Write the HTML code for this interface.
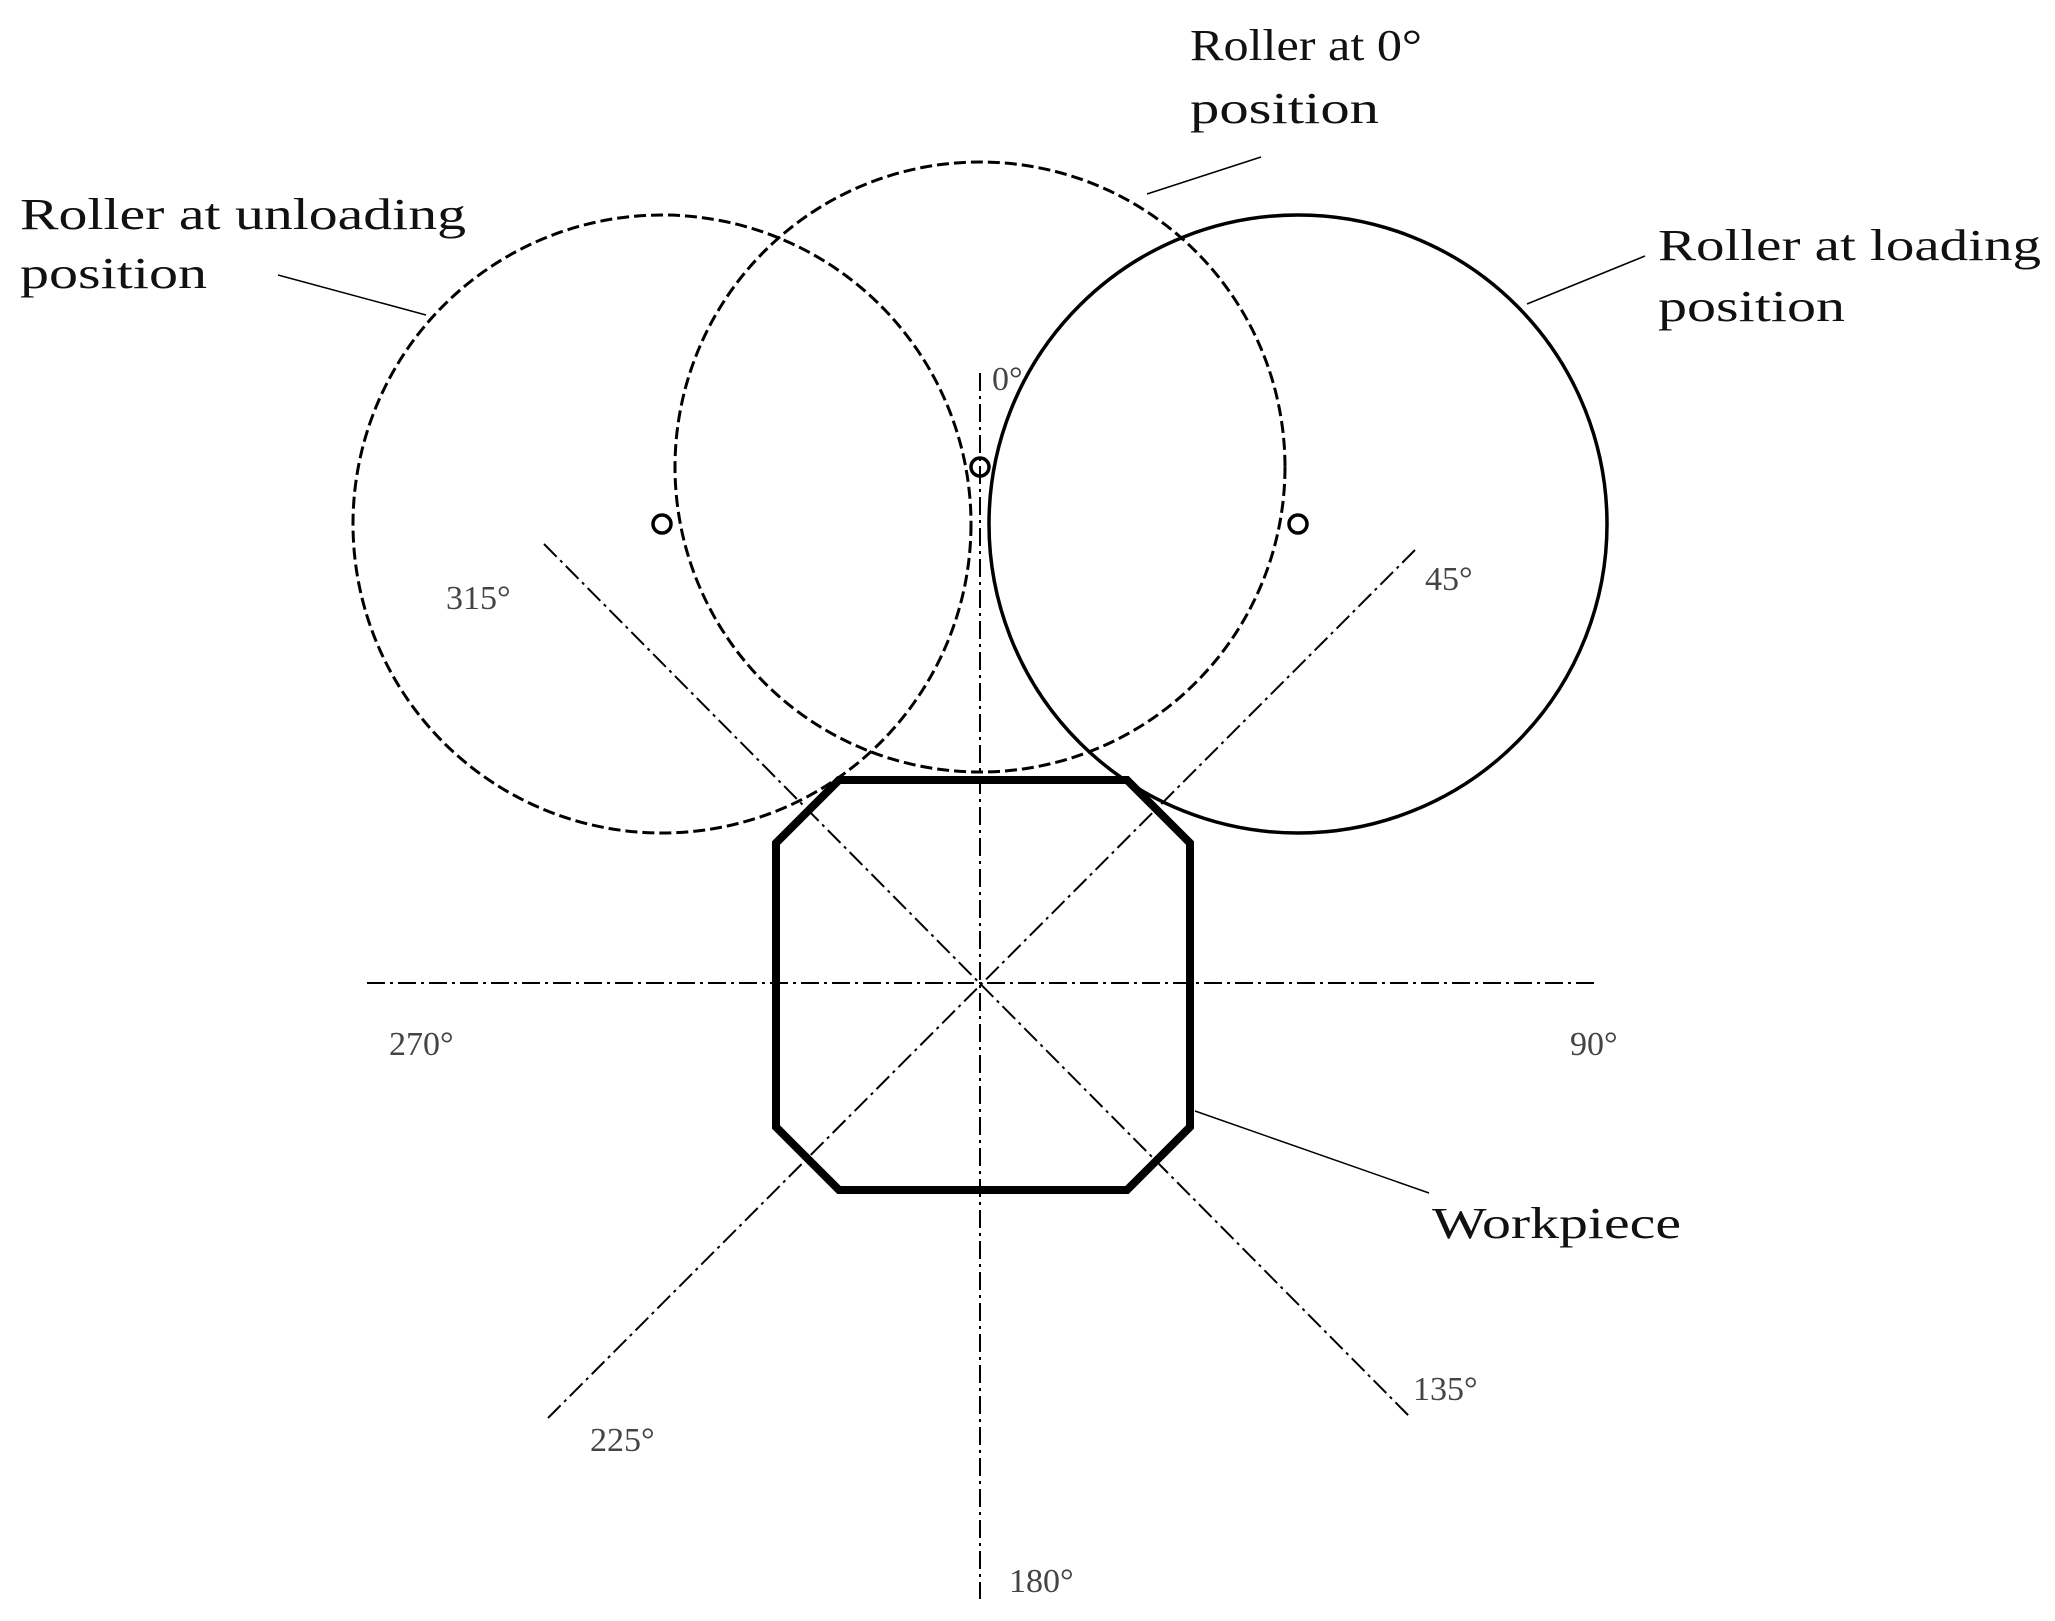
<!DOCTYPE html>
<html><head><style>html,body{margin:0;padding:0;background:#fff}svg{display:block}</style></head>
<body>
<svg width="2055" height="1621" viewBox="0 0 2055 1621" xmlns="http://www.w3.org/2000/svg">
<g stroke="#000" fill="none" stroke-width="2" stroke-dasharray="18 5 3 5">
<line x1="980" y1="373" x2="980" y2="1599"/>
<line x1="367" y1="983" x2="1596" y2="983"/>
<line x1="544" y1="544" x2="1409" y2="1416"/>
<line x1="1415" y1="550" x2="548" y2="1418"/>
</g>
<g stroke="#000" fill="none" stroke-width="3" stroke-dasharray="12 5">
<circle cx="980" cy="467" r="305"/>
<circle cx="662" cy="524" r="309"/>
</g>
<circle cx="1298" cy="524" r="309" stroke="#000" fill="none" stroke-width="3.5"/>
<g stroke="#000" fill="none" stroke-width="3.5">
<circle cx="980" cy="467" r="9"/>
<circle cx="662" cy="524" r="9"/>
<circle cx="1298" cy="524" r="9"/>
</g>
<polygon points="839,780 1127,780 1190,843 1190,1127 1127,1190 839,1190 776,1127 776,843" stroke="#000" fill="none" stroke-width="8"/>
<g stroke="#000" stroke-width="1.5">
<line x1="1147" y1="194" x2="1261" y2="157"/>
<line x1="278" y1="275" x2="426" y2="315"/>
<line x1="1527" y1="304" x2="1645" y2="256"/>
<line x1="1195" y1="1111" x2="1429" y2="1193"/>
</g>
<g font-family="Liberation Serif, serif" font-size="44" fill="#111" lengthAdjust="spacingAndGlyphs">
<text x="1190" y="60" textLength="232" lengthAdjust="spacingAndGlyphs">Roller at 0°</text>
<text x="1190" y="123" textLength="189" lengthAdjust="spacingAndGlyphs">position</text>
<text x="20" y="229" textLength="446" lengthAdjust="spacingAndGlyphs">Roller at unloading</text>
<text x="20" y="288" textLength="187" lengthAdjust="spacingAndGlyphs">position</text>
<text x="1658" y="260" textLength="383" lengthAdjust="spacingAndGlyphs">Roller at loading</text>
<text x="1658" y="321" textLength="187" lengthAdjust="spacingAndGlyphs">position</text>
<text x="1432" y="1238" textLength="249" lengthAdjust="spacingAndGlyphs">Workpiece</text>
</g>
<g font-family="Liberation Serif, serif" font-size="34" fill="#444">
<text x="992" y="390">0°</text>
<text x="1425" y="590">45°</text>
<text x="446" y="609">315°</text>
<text x="389" y="1055">270°</text>
<text x="1570" y="1055">90°</text>
<text x="1413" y="1400">135°</text>
<text x="590" y="1451">225°</text>
<text x="1009" y="1592">180°</text>
</g>
</svg>
</body></html>
